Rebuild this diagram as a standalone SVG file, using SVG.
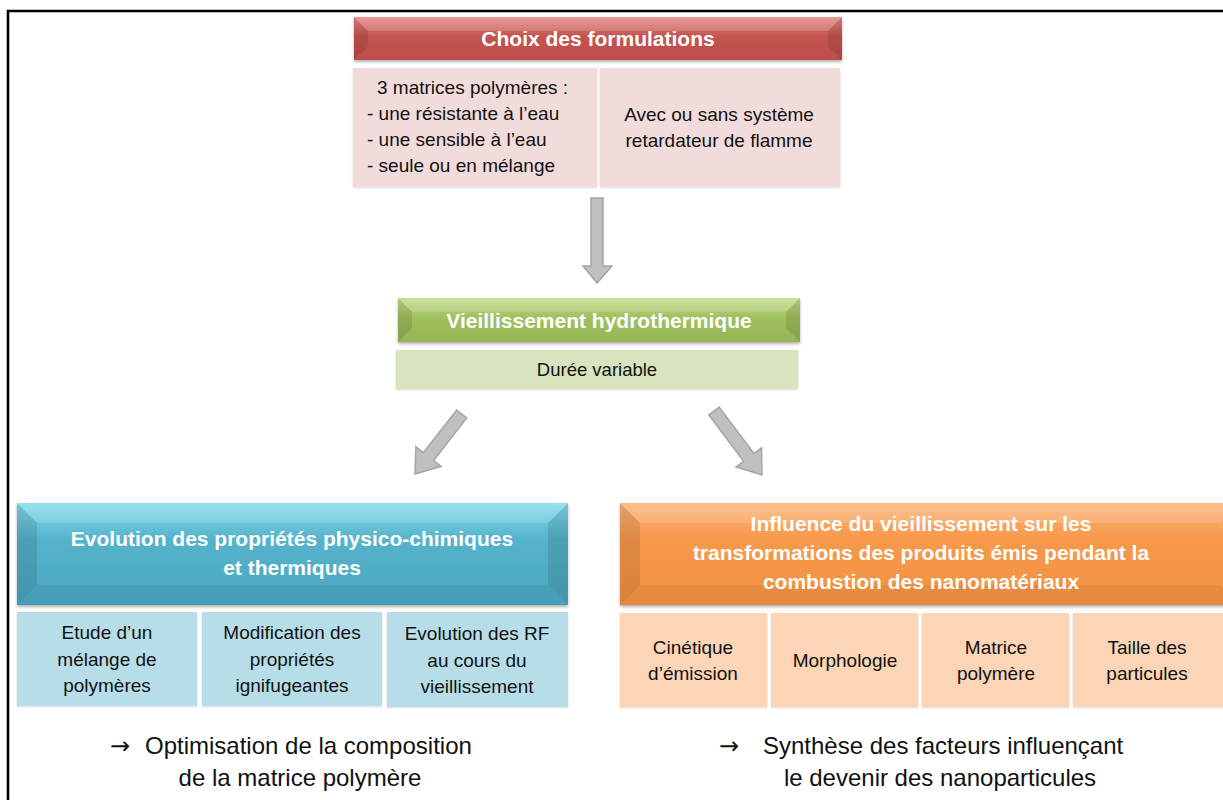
<svg xmlns="http://www.w3.org/2000/svg" width="1223" height="800" viewBox="0 0 1223 800">
<defs>
<linearGradient id="gRed" x1="0" y1="0" x2="0" y2="1"><stop offset="0" stop-color="#e58a87"/><stop offset="0.45" stop-color="#c5534f"/><stop offset="1" stop-color="#bd4e4b"/></linearGradient>
<linearGradient id="gGreen" x1="0" y1="0" x2="0" y2="1"><stop offset="0" stop-color="#c4dd8a"/><stop offset="0.45" stop-color="#a0c05e"/><stop offset="1" stop-color="#96b656"/></linearGradient>
<linearGradient id="gBlue" x1="0" y1="0" x2="0" y2="1"><stop offset="0" stop-color="#86dced"/><stop offset="0.35" stop-color="#55b3cb"/><stop offset="1" stop-color="#4aa7c0"/></linearGradient>
<linearGradient id="gOrange" x1="0" y1="0" x2="0" y2="1"><stop offset="0" stop-color="#fbb57a"/><stop offset="0.35" stop-color="#f7994b"/><stop offset="1" stop-color="#f29242"/></linearGradient>
<filter id="sh" x="-5%" y="-10%" width="110%" height="130%"><feDropShadow dx="0" dy="2" stdDeviation="1.5" flood-color="#000" flood-opacity="0.3"/></filter>
<filter id="sh2" x="-5%" y="-10%" width="110%" height="130%"><feDropShadow dx="0" dy="1" stdDeviation="1" flood-color="#000" flood-opacity="0.15"/></filter>
</defs>
<style>
.hd{font-family:"Liberation Sans",Arial,sans-serif;font-weight:bold;font-size:21px;fill:#fff;text-anchor:middle}
.tx{font-family:"Liberation Sans",Arial,sans-serif;font-size:19px;fill:#111}
.c{text-anchor:middle}
.bt{font-family:"Liberation Sans",Arial,sans-serif;font-size:24px;fill:#111}
.arr{font-family:"DejaVu Sans",sans-serif;font-size:24px;fill:#111}
.bl{fill:#000;opacity:0.1}
.wh{fill:#fff;opacity:0.14}
.conn{fill:#bfbfbf;stroke:#a5a5a5;stroke-width:1.5;stroke-linejoin:miter}
</style>
<rect width="1223" height="800" fill="#fff"/>
<path d="M8,800 V11 H1223" fill="none" stroke="#000" stroke-width="2.6"/>

<g id="choix">
<g filter="url(#sh)"><rect x="354" y="17" width="488" height="43" fill="url(#gRed)"/></g>
<polygon class="bl" points="354,17 368,31 368,46 354,60"/>
<polygon class="bl" points="842,17 828,31 828,46 842,60"/>
<polygon class="wh" points="354,17 842,17 828,31 368,31"/>
<text class="hd" x="598" y="46">Choix des formulations</text>
<rect x="353" y="68" width="244" height="119" fill="#f2dcdb" filter="url(#sh2)"/>
<rect x="600" y="68" width="240" height="119" fill="#f2dcdb" filter="url(#sh2)"/>
<text class="tx" x="377" y="94">3 matrices polymères :</text>
<text class="tx" x="367" y="120">- une résistante à l’eau</text>
<text class="tx" x="367" y="146">- une sensible à l’eau</text>
<text class="tx" x="367" y="172">- seule ou en mélange</text>
<text class="tx c" x="719" y="121">Avec ou sans système</text>
<text class="tx c" x="719" y="147">retardateur de flamme</text>
</g>

<g id="vieillissement">
<g filter="url(#sh)"><rect x="398" y="298" width="402" height="44" fill="url(#gGreen)"/></g>
<polygon class="bl" points="398,298 412,312 412,328 398,342"/>
<polygon class="bl" points="800,298 786,312 786,328 800,342"/>
<polygon class="wh" points="398,298 800,298 786,312 412,312"/>
<text class="hd" x="599" y="328">Vieillissement hydrothermique</text>
<rect x="396" y="350" width="402" height="39" fill="#d7e4bd" filter="url(#sh2)"/>
<text class="tx c" x="597" y="376" style="font-size:18.5px">Durée variable</text>
</g>

<g id="evolution">
<g filter="url(#sh)"><rect x="17" y="503" width="551" height="102" fill="url(#gBlue)"/></g>
<polygon class="bl" points="17,503 37,523 37,585 17,605"/>
<polygon class="bl" points="568,503 548,523 548,585 568,605"/>
<polygon class="wh" points="17,503 568,503 548,523 37,523"/>
<polygon class="bl" points="17,605 568,605 548,585 37,585" style="opacity:0.05"/>
<text class="hd" x="292" y="546">Evolution des propriétés physico-chimiques</text>
<text class="hd" x="292" y="575">et thermiques</text>
<rect x="17" y="612" width="180" height="94" fill="#b7dee8" filter="url(#sh2)"/>
<rect x="202" y="612" width="180" height="94" fill="#b7dee8" filter="url(#sh2)"/>
<rect x="387" y="612" width="181" height="95" fill="#b7dee8" filter="url(#sh2)"/>
<text class="tx c" x="107" y="639">Etude d’un</text>
<text class="tx c" x="107" y="666">mélange de</text>
<text class="tx c" x="107" y="692">polymères</text>
<text class="tx c" x="292" y="639">Modification des</text>
<text class="tx c" x="292" y="666">propriétés</text>
<text class="tx c" x="292" y="692">ignifugeantes</text>
<text class="tx c" x="477" y="640">Evolution des RF</text>
<text class="tx c" x="477" y="667">au cours du</text>
<text class="tx c" x="477" y="693">vieillissement</text>
</g>

<g id="influence">
<g filter="url(#sh)"><rect x="620" y="503" width="620" height="102" fill="url(#gOrange)"/></g>
<polygon class="bl" points="620,503 640,523 640,585 620,605"/>
<polygon class="wh" points="620,503 1240,503 1220,523 640,523"/>
<polygon class="bl" points="620,605 1240,605 1220,585 640,585" style="opacity:0.05"/>
<text class="hd" x="921" y="531">Influence du vieillissement sur les</text>
<text class="hd" x="921" y="560">transformations des produits émis pendant la</text>
<text class="hd" x="921" y="589">combustion des nanomatériaux</text>
<rect x="620" y="613" width="147" height="94" fill="#fbd5b5" filter="url(#sh2)"/>
<rect x="771" y="613" width="147" height="94" fill="#fbd5b5" filter="url(#sh2)"/>
<rect x="922" y="613" width="147" height="94" fill="#fbd5b5" filter="url(#sh2)"/>
<rect x="1073" y="613" width="160" height="94" fill="#fbd5b5" filter="url(#sh2)"/>
<text class="tx c" x="693" y="654">Cinétique</text>
<text class="tx c" x="693" y="680">d’émission</text>
<text class="tx c" x="845" y="667">Morphologie</text>
<text class="tx c" x="996" y="654">Matrice</text>
<text class="tx c" x="996" y="680">polymère</text>
<text class="tx c" x="1147" y="654">Taille des</text>
<text class="tx c" x="1147" y="680">particules</text>
</g>

<g id="conclusion-left">
<text class="arr" x="110" y="754">→</text>
<text class="bt" x="145" y="754">Optimisation de la composition</text>
<text class="bt c" x="300" y="786">de la matrice polymère</text>
</g>
<g id="conclusion-right">
<text class="arr" x="719" y="754">→</text>
<text class="bt" x="763" y="754">Synthèse des facteurs influençant</text>
<text class="bt c" x="940" y="786">le devenir des nanoparticules</text>
</g>

<g id="connectors">
<polygon class="conn" points="591,198 603,198 603,266 612,266 597,283 583,266 591,266"/>
<polygon class="conn" points="456.6,410 466.8,418 433.6,460.6 441.1,466.4 415,474 415.9,446.8 423.4,452.6"/>
<polygon class="conn" points="719.2,407.1 754,453.5 761.6,447.8 762,475 736,467 743.6,461.3 708.8,414.9"/>
</g>
</svg>
